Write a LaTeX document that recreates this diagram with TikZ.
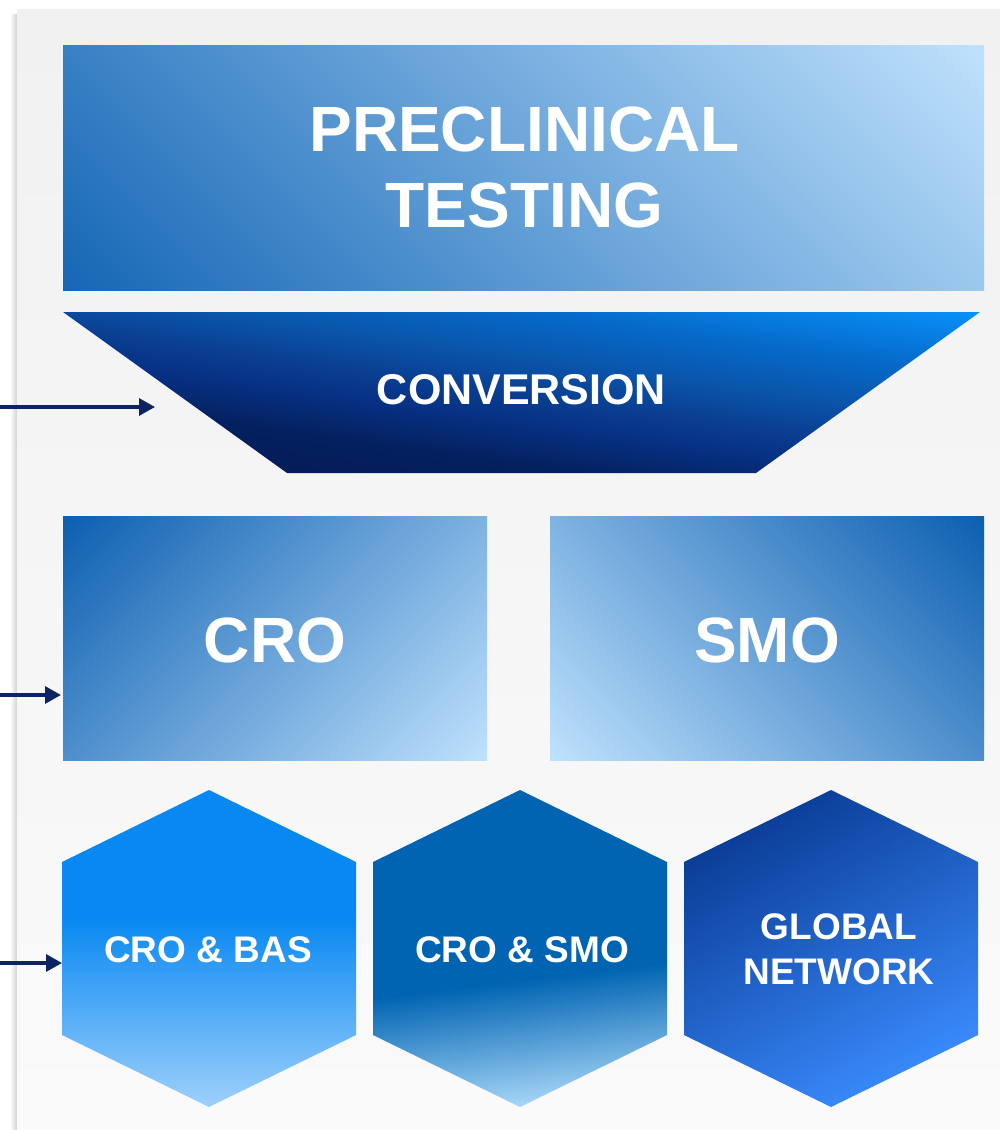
\documentclass[tikz,border=0pt]{standalone}
\usepackage{fontspec}
\setmainfont{Liberation Sans}
\usetikzlibrary{arrows.meta}

\definecolor{navy}{HTML}{0C2462}
\definecolor{panelTop}{HTML}{F1F1F1}
\definecolor{panelBot}{HTML}{FAFAFA}
\definecolor{boxDark}{HTML}{1466B5}
\definecolor{boxLight}{HTML}{C0E2FD}
\definecolor{croDark}{HTML}{0B5EB0}
\definecolor{convA}{HTML}{041A55}
\definecolor{convB}{HTML}{04205E}
\definecolor{convC}{HTML}{073184}
\definecolor{convD}{HTML}{0A3F92}
\definecolor{convE}{HTML}{0A55AA}
\definecolor{convF}{HTML}{0668C8}
\definecolor{convG}{HTML}{0892FA}
\definecolor{hexAtop}{HTML}{0888F2}
\definecolor{hexAbot}{HTML}{9ED0FB}
\definecolor{hexBtop}{HTML}{0064B2}
\definecolor{hexBbot}{HTML}{A8D6F8}
\definecolor{hexCtop}{HTML}{0A3C96}
\definecolor{hexCbot}{HTML}{3A8BFD}

% vertical fills for the first two hexagons and the funnel
\pgfdeclareverticalshading{hexAshade}{100bp}{color(0bp)=(hexAbot); color(25bp)=(hexAbot); color(55bp)=(hexAtop); color(100bp)=(hexAtop)}
\pgfdeclareverticalshading{hexBshade}{100bp}{color(0bp)=(hexBbot); color(25bp)=(hexBbot); color(45bp)=(hexBtop); color(100bp)=(hexBtop)}
\pgfdeclareverticalshading{convShade}{100bp}{color(0bp)=(convA); color(25bp)=(convA); color(37.5bp)=(convB); color(45bp)=(convC); color(50bp)=(convD); color(56bp)=(convE); color(63.5bp)=(convF); color(75bp)=(convG); color(100bp)=(convG)}

\tikzset{
  label text/.style={text=white, align=center, inner sep=0pt},
  big text/.style={label text, font=\bfseries\fontsize{64}{76}\selectfont},
  mid text/.style={label text, font=\bfseries\fontsize{43}{50}\selectfont},
  hex text/.style={label text, font=\bfseries\fontsize{37}{45}\selectfont},
  feed/.style={draw=navy, line width=3.2pt, -{Triangle[length=16pt,width=17pt]}},
}

\begin{document}
\begin{tikzpicture}[x=1pt,y=-1pt]
  \useasboundingbox (0,0) rectangle (1000,1130);
  \fill[white] (0,0) rectangle (1000,1130);

  % panel with a soft shadow on its left edge
  \shade[left color=white, right color=black!18] (10,14) rectangle (17,1130);
  \shade[top color=panelTop, bottom color=panelBot] (17,9) rectangle (1000,1130);

  % preclinical testing banner: 45 degree gradient, dark lower left
  \begin{scope}
    \clip (63,45) rectangle (984,290);
    \begin{scope}[transform canvas={rotate around={-45:(523.5,167.5)}}]
      \shade[bottom color=boxDark, top color=boxLight]
        (108.5,-247.5) rectangle (938.5,582.5);
    \end{scope}
  \end{scope}
  \node[big text] (pre) at (524.5,167) {PRECLINICAL\\TESTING};

  % conversion funnel
  \begin{scope}
    \clip (63,312) -- (980,312) -- (756,473) -- (287,473) -- cycle;
    \begin{scope}[transform canvas={rotate around={-8:(521.5,392.5)}}]
      \shade[shading=convShade]
        (54.5,247.5) rectangle (988.5,537.5);
    \end{scope}
  \end{scope}
  \node[mid text] (conv) at (521.5,390) {CONVERSION};

  % CRO block: dark upper left
  \begin{scope}
    \clip (63,516) rectangle (487,760);
    \begin{scope}[transform canvas={rotate around={45:(275,638)}}]
      \shade[top color=croDark, bottom color=boxLight]
        (37,400) rectangle (513,876);
    \end{scope}
  \end{scope}
  \node[big text] (cro) at (275,640) {CRO};

  % SMO block: dark upper right
  \begin{scope}
    \clip (550,516) rectangle (984,760);
    \begin{scope}[transform canvas={rotate around={-45:(767,638)}}]
      \shade[top color=croDark, bottom color=boxLight]
        (525,396) rectangle (1009,880);
    \end{scope}
  \end{scope}
  \node[big text] (smo) at (767,640) {SMO};

  % hexagons
  \shade[shading=hexAshade]
    (209,790) -- (356,862) -- (356,1035) -- (209,1107) -- (62,1035) -- (62,862) -- cycle;
  \node[hex text] (bas) at (208,950) {CRO \& BAS};
  \shade[shading=hexBshade, shading angle=7]
    (520,790) -- (667,862) -- (667,1035) -- (520,1107) -- (373,1035) -- (373,862) -- cycle;
  \node[hex text] (crosmo) at (522,950) {CRO \& SMO};
  \shade[top color=hexCtop, bottom color=hexCbot, shading angle=30]
    (831,790) -- (978,862) -- (978,1035) -- (831,1107) -- (684,1035) -- (684,862) -- cycle;
  \node[hex text] (global) at (839,949) {GLOBAL\\NETWORK};

  % incoming arrows
  \coordinate (s1) at (0,407);
  \coordinate (t1) at (155,407);
  \coordinate (s2) at (0,695);
  \coordinate (t2) at (61,695);
  \coordinate (s3) at (0,963);
  \coordinate (t3) at (62,963);
  \draw[feed] (s1) -- (t1);
  \draw[feed] (s2) -- (t2);
  \draw[feed] (s3) -- (t3);
\end{tikzpicture}
\end{document}
